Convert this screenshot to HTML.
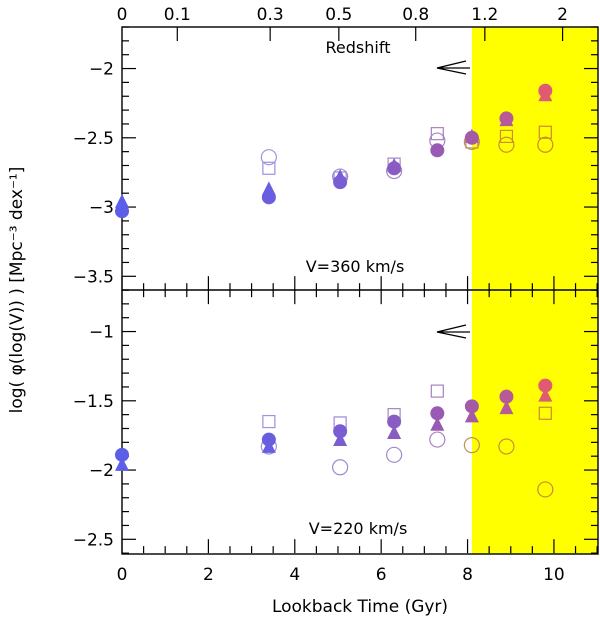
<!DOCTYPE html>
<html><head><meta charset="utf-8"><style>
html,body{margin:0;padding:0;background:#fff;}
svg{display:block;font-family:"DejaVu Sans","Liberation Sans",sans-serif;}
</style></head>
<body>
<svg id="chart" width="600" height="619" viewBox="0 0 600 619"></svg>
<script>
const times = [0, 3.4, 5.05, 6.3, 7.3, 8.1, 8.9, 9.8];
const colors = ["#5d5ee8","#6a5ee0","#7a5dd2","#8a5cc2","#985ab2","#a45aa6","#b85a98","#e05a74"];
const openColors = ["#9a90e8","#a090e0","#9e88d6","#a088c8","#a880c0","#c09060","#c89030","#c88a30"];
const topFilledCircle = [-3.03,-2.93,-2.82,-2.72,-2.59,-2.50,-2.36,-2.16];
const topTriangle = [-2.97,-2.88,-2.79,-2.71,null,-2.50,-2.38,-2.20];
const topOpenCircle = [null,-2.64,-2.78,-2.74,-2.52,-2.53,-2.55,-2.55];
const topSquare = [null,-2.72,-2.79,-2.69,-2.47,-2.53,-2.49,-2.46];
const botFilledCircle = [-1.89,-1.78,-1.72,-1.65,-1.59,-1.54,-1.47,-1.39];
const botTriangle = [-1.97,-1.84,-1.79,-1.74,-1.68,-1.62,-1.56,-1.47];
const botOpenCircle = [null,-1.83,-1.98,-1.89,-1.78,-1.82,-1.83,-2.14];
const botSquare = [null,-1.65,-1.66,-1.60,-1.43,null,null,-1.59];
const xTicks = [0,2,4,6,8,10];
const zLabels = ["0","0.1","0.3","0.5","0.8","1.2","2"];
const zTimes = [0,1.28,3.43,5.02,6.8,8.4,10.2];
const topYTicks = [-2,-2.5,-3,-3.5];
const botYTicks = [-1,-1.5,-2,-2.5];

const NS="http://www.w3.org/2000/svg";
const svg=document.getElementById('chart');
const X0=122,X1=598,XMAX=11.02;
const xs=t=>X0+(t/XMAX)*(X1-X0);
const PPU=138.5;
const ysTop=v=>27+(-1.70-v)*PPU;
const ysBot=v=>290+(-0.70-v)*PPU;
function mk(tag,attrs,parent){const e=document.createElementNS(NS,tag);for(const k in attrs)e.setAttribute(k,attrs[k]);(parent||svg).appendChild(e);return e;}

// yellow
const yel=mk('rect',{x:xs(8.1),y:27,width:X1-xs(8.1),height:527,fill:'#ffff00'});



function panel(ys,yTicks,top,name){
  const g=mk('g',{});
  
  
  const yt=ys(top?-1.70:-0.70), yb=ys(top?-3.60:-2.60);
  // y ticks
  for(let v=Math.round((top?-3.6:-2.6)*10);v<=Math.round((top?-1.7:-0.7)*10);v++){
    const y=ys(v/10), major=(v%5===0);
    const L=major?14:7;
    mk('line',{x1:X0,x2:X0+L,y1:y,y2:y,stroke:'#000','stroke-width':1.2},g);
    mk('line',{x1:X1-L,x2:X1,y1:y,y2:y,stroke:'#000','stroke-width':1.2},g);
  }
  yTicks.forEach(v=>{
    const t=mk('text',{x:X0-8,y:ys(v)+6,'text-anchor':'end','font-size':17,fill:'#000'},g);
    t.textContent='\u2212'+String(Math.abs(v));
    
    
  });
  // x ticks bottom
  for(let i=0;i<=22;i++){
    const t=i*0.5;if(t>XMAX)break;
    const x=xs(t),major=(i%4===0),L=major?14:7;
    mk('line',{x1:x,x2:x,y1:yb,y2:yb-L,stroke:'#000','stroke-width':1.2},g);
    if(!top) {}
    else mk('line',{x1:x,x2:x,y1:yb,y2:yb+L,stroke:'#000','stroke-width':1.2},g);
  }
  return {g,yt,yb};
}
const P1=panel(ysTop,topYTicks,true,'top-panel');
const P2=panel(ysBot,botYTicks,false,'bottom-panel');
// top redshift ticks
zTimes.forEach((t,i)=>{
  const x=xs(t);
  if(i>0) mk('line',{x1:x,x2:x,y1:27,y2:41,stroke:'#000','stroke-width':1.2});
  const tx=mk('text',{x:x,y:20,'text-anchor':'middle','font-size':17});
  tx.textContent=zLabels[i];
  
  
});
xTicks.forEach(v=>{
  const tx=mk('text',{x:xs(v),y:580,'text-anchor':'middle','font-size':17});
  tx.textContent=String(v);
  
  
});
// frame
mk('rect',{x:X0,y:27,width:X1-X0,height:527,fill:'none',stroke:'#000','stroke-width':1.4});
mk('line',{x1:X0,x2:X1,y1:290,y2:290,stroke:'#000','stroke-width':1.4});

function markers(ys,fc,tri,oc,sq,name){
  const g=mk('g',{});
  
  
  times.forEach((t,i)=>{
    const x=xs(t);
    if(sq[i]!=null){const y=ys(sq[i]);const s=mk('rect',{x:x-6,y:y-6,width:12,height:12,fill:'none',stroke:openColors[i],'stroke-width':1.2},g);}
    if(oc[i]!=null){const y=ys(oc[i]);const c=mk('circle',{cx:x,cy:y,r:7.5,fill:'none',stroke:openColors[i],'stroke-width':1.2},g);}
    if(tri[i]!=null){const y=ys(tri[i]);const p=mk('polygon',{points:`${x},${y-9} ${x-7},${y+5} ${x+7},${y+5}`,fill:colors[i]},g);}
    if(fc[i]!=null){const y=ys(fc[i]);const c=mk('circle',{cx:x,cy:y,r:7,fill:colors[i]},g);}
  });
}
markers(ysTop,topFilledCircle,topTriangle,topOpenCircle,topSquare,'top-series');
markers(ysBot,botFilledCircle,botTriangle,botOpenCircle,botSquare,'bottom-series');

function arrow(y,name){
  const p=mk('path',{d:`M470 ${y} L437 ${y} M466 ${y-7} L437 ${y} L466 ${y+6}`,fill:'none',stroke:'#000','stroke-width':1.3});
  
}
arrow(68,'top-arrow');arrow(332,'bottom-arrow');
function label(txt,x,y,name,extra){
  const t=mk('text',Object.assign({x:x,y:y,'text-anchor':'middle','font-size':16},extra||{}));
  t.textContent=txt;return t;
}
label('Redshift',358,53,'redshift-axis-title');
label('V=360 km/s',355,272,'top-panel-label');
label('V=220 km/s',358,534,'bottom-panel-label');
label('Lookback Time (Gyr)',360,612,'x-axis-title',{'font-size':17});
label('log( \u03C6(log(V)) ) [Mpc\u207B\u00B3 dex\u207B\u00B9]',0,0,'y-axis-title',{'font-size':17,transform:'translate(22,290) rotate(-90)'});
</script>
</body></html>
